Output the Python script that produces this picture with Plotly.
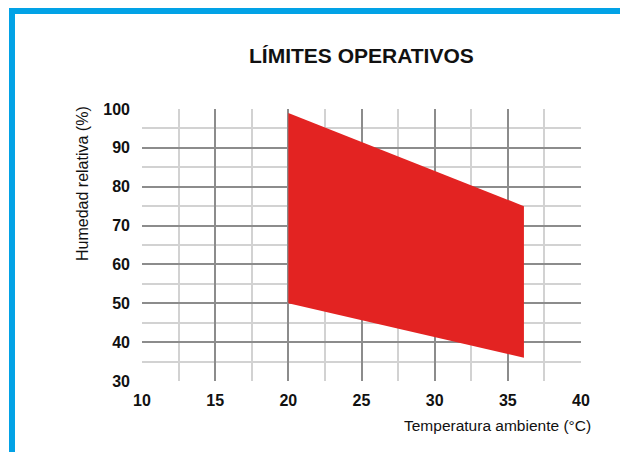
import plotly.graph_objects as go

# Data: operating envelope (temperature °C, relative humidity %)
temp_upper = [20, 36.1]
hum_upper = [99, 75]
temp_lower = [36.1, 20]
hum_lower = [36, 50]

x_ticks = [10, 15, 20, 25, 30, 35, 40]
y_ticks = [30, 40, 50, 60, 70, 80, 90, 100]

title_text = "LÍMITES OPERATIVOS"
x_title = "Temperatura ambiente (°C)"
y_title = "Humedad relativa (%)"

FONT = "Liberation Sans, Arial, sans-serif"

poly_x = temp_upper + temp_lower + [temp_upper[0]]
poly_y = hum_upper + hum_lower + [hum_upper[0]]

W, H = 620, 444
ML, MR, MT, MB = 134, 47, 101, 71

fig = go.Figure()
fig.add_trace(go.Scatter(
    x=poly_x, y=poly_y, mode="lines", fill="toself",
    fillcolor="#E32322", line=dict(color="#E32322", width=0),
    hoverinfo="skip", showlegend=False,
))

fig.update_layout(
    width=W, height=H,
    margin=dict(l=ML, r=MR, t=MT, b=MB),
    paper_bgcolor="white", plot_bgcolor="white",
    showlegend=False,
    font=dict(family=FONT, color="#111111"),
)

fig.update_xaxes(
    range=[10, 40], tickvals=x_ticks, ticktext=[str(v) for v in x_ticks],
    tickfont=dict(family=FONT, size=16, color="#111111", weight="bold"),
    showgrid=True, gridcolor="#8c8c8c", gridwidth=1.5,
    minor=dict(dtick=2.5, showgrid=True, gridcolor="#d2d2d2", gridwidth=2),
    showline=False, zeroline=False, ticks="", ticklabelstandoff=8,
)
fig.update_yaxes(
    range=[30, 100], tickvals=y_ticks, ticktext=[str(v) for v in y_ticks],
    tickfont=dict(family=FONT, size=16, color="#111111", weight="bold"),
    showgrid=True, gridcolor="#8c8c8c", gridwidth=1.5,
    minor=dict(dtick=5, showgrid=True, gridcolor="#d2d2d2", gridwidth=2),
    showline=False, zeroline=False, ticks="", ticklabelstandoff=11,
)

# small end ticks at the corners of the axes
fig.add_shape(type="line", xref="x", yref="y", xsizemode="pixel", xanchor=10,
              x0=-7, x1=0, y0=100, y1=100, line=dict(color="#8c8c8c", width=1.5))
fig.add_shape(type="line", xref="x", yref="y", xsizemode="pixel", xanchor=10,
              x0=-7, x1=0, y0=30, y1=30, line=dict(color="#8c8c8c", width=1.5))
fig.add_shape(type="line", xref="x", yref="y", ysizemode="pixel", yanchor=30,
              x0=10, x1=10, y0=-4, y1=0, line=dict(color="#8c8c8c", width=1.5))

# blue frame (top and left)
BLUE = "#02A2E6"
fig.add_shape(type="rect", xref="paper", yref="paper", xsizemode="pixel", ysizemode="pixel",
              xanchor=0, yanchor=1, x0=-(ML - 1), x1=-(ML - 7), y0=MT, y1=-(H - MT),
              line=dict(width=0), fillcolor=BLUE, layer="above")
fig.add_shape(type="rect", xref="paper", yref="paper", xsizemode="pixel", ysizemode="pixel",
              xanchor=0, yanchor=1, x0=-(ML - 1), x1=W - ML, y0=MT, y1=MT - 6,
              line=dict(width=0), fillcolor=BLUE, layer="above")

fig.add_annotation(text=title_text, xref="paper", yref="paper", x=0.5, y=1,
                   yanchor="middle", yshift=54, showarrow=False,
                   font=dict(family=FONT, size=21, color="#111111", weight="bold"))
fig.add_annotation(text=x_title, xref="paper", yref="paper", x=1, y=0,
                   xanchor="right", yanchor="middle", xshift=12, yshift=-44, showarrow=False,
                   font=dict(family=FONT, size=15.5, color="#111111"))
fig.add_annotation(text=y_title, xref="paper", yref="paper", x=0, y=1,
                   xanchor="center", yanchor="middle", xshift=-59.5, yshift=-74.5,
                   textangle=-90, showarrow=False,
                   font=dict(family=FONT, size=16, color="#111111"))

fig.write_html("out.html")
